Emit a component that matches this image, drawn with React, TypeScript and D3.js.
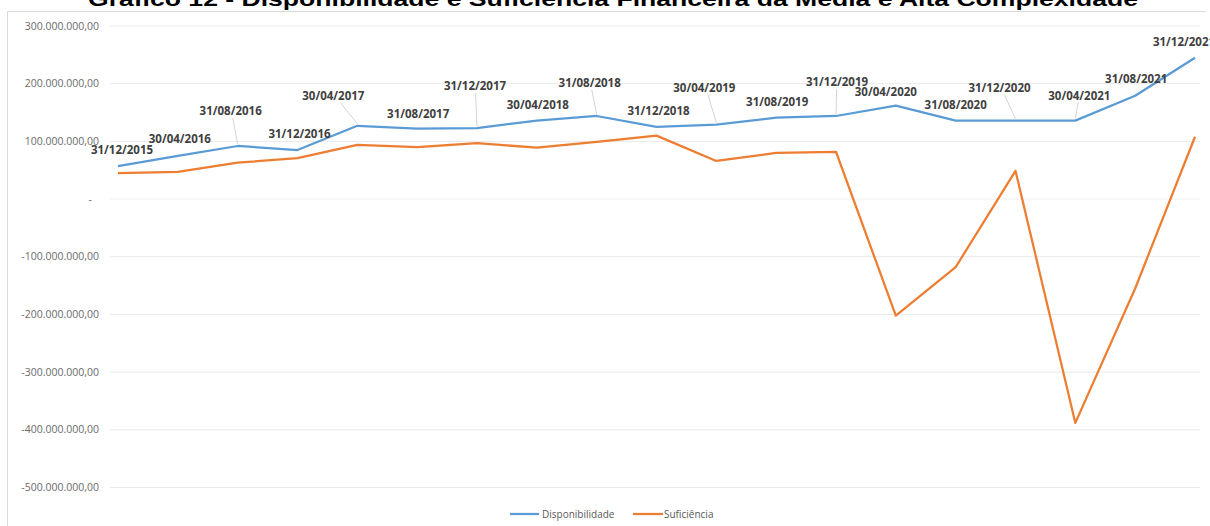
import React from "react";
import * as d3 from "d3";

// Gráfico 12 - Disponibilidade e Suficiência (valores em R$)
const dates = [
  "31/12/2015", "30/04/2016", "31/08/2016", "31/12/2016", "30/04/2017",
  "31/08/2017", "31/12/2017", "30/04/2018", "31/08/2018", "31/12/2018",
  "30/04/2019", "31/08/2019", "31/12/2019", "30/04/2020", "31/08/2020",
  "31/12/2020", "30/04/2021", "31/08/2021", "31/12/2021",
];

// milhões
const disponibilidade = [
  57, 75, 92, 85, 127, 122, 123, 136, 144, 125, 129, 141, 144, 162, 136, 136, 136, 179, 245,
];
const suficiencia = [
  45, 47, 63, 71, 94, 90, 97, 89, 99, 110, 66, 80, 82, -202, -118, 49, -388, -155, 108,
];

const yTicks = [300, 200, 100, 0, -100, -200, -300, -400, -500];

// where each date label sits relative to its blue point (dx, dy of label centre)
const labelOffsets: [number, number][] = [
  [4, -16], [2, -17], [-7, -35], [2, -16], [-24, -30], [1, -15], [-2, -42],
  [1, -16], [-7, -33], [2, -16], [-12, -37], [1, -16], [1, -34], [-10, -14],
  [0, -16], [-16, -33], [4, -25], [1, -17], [-11, -16],
];

const W = 1210;
const H = 526;
const BLUE = "#5b9bd5";
const ORANGE = "#ed7d31";
const TITLE =
  "Gráfico 12 - Disponibilidade e Suficiência Financeira da Média e Alta Complexidade";

const fmt = (v: number) => {
  if (v === 0) return "-";
  const s = d3.format(",.2f")(Math.abs(v) * 1e6);
  // pt-BR style: dots for thousands, comma for decimals
  const br = s.replace(/,/g, "#").replace(".", ",").replace(/#/g, ".");
  return (v < 0 ? "-" : "") + br;
};

export default function App() {
  const x = d3.scalePoint<string>().domain(dates).range([118, 1195]);
  const y = d3.scaleLinear().domain([-500, 300]).range([487.5, 26]);

  const line = d3
    .line<number>()
    .x((_, i) => x(dates[i]) as number)
    .y((d) => y(d));

  const labelFont = "'Open Sans', 'Liberation Sans', sans-serif";

  return (
    <svg
      width={W}
      height={H}
      style={{ position: "absolute", left: 0, top: 0, background: "#fff" }}
    >
      {/* title, cut off at the top */}
      <text
        x={613}
        y={6}
        textAnchor="middle"
        fontFamily="'Liberation Sans', Arial, sans-serif"
        fontWeight="bold"
        fontSize={21}
        fill="#000"
        textLength={1050}
        lengthAdjust="spacingAndGlyphs"
      >
        {TITLE}
      </text>

      {/* chart frame */}
      <path d={`M7.5,${H} V11.5 H1206`} fill="none" stroke="#d9d9d9" strokeWidth={1} />

      {/* gridlines + y labels */}
      {yTicks.map((t) => (
        <g key={t}>
          {t !== 0 && (
            <line x1={110} x2={1200} y1={y(t)} y2={y(t)} stroke="#e9e9e9" strokeWidth={1} />
          )}
          {t === 0 && (
            <line x1={110} x2={1200} y1={y(t)} y2={y(t)} stroke="#f0f0f0" strokeWidth={1} />
          )}
          <text
            x={t === 0 ? 92 : 99}
            y={y(t)}
            dy="0.35em"
            textAnchor="end"
            fontFamily={labelFont}
            fontSize={10.5}
            fill="#6b6b6b"
          >
            {fmt(t)}
          </text>
        </g>
      ))}

      {/* leader lines for labels that sit far from their point */}
      {dates.map((d, i) => {
        const [dx, dy] = labelOffsets[i];
        if (dy > -20) return null;
        const px = x(d) as number;
        const py = y(disponibilidade[i]);
        return (
          <line
            key={"ll" + d}
            x1={px + dx * 0.7}
            y1={py + dy + 7}
            x2={px}
            y2={py - 2}
            stroke="#c8c8c8"
            strokeWidth={0.8}
          />
        );
      })}

      <path d={line(suficiencia) ?? ""} fill="none" stroke={ORANGE} strokeWidth={2.25} strokeLinejoin="round" />
      <path d={line(disponibilidade) ?? ""} fill="none" stroke={BLUE} strokeWidth={2.25} strokeLinejoin="round" />

      {/* date labels */}
      {dates.map((d, i) => {
        const [dx, dy] = labelOffsets[i];
        return (
          <text
            key={"lb" + d}
            x={(x(d) as number) + dx}
            y={y(disponibilidade[i]) + dy}
            dy="0.35em"
            textAnchor="middle"
            fontFamily={labelFont}
            fontWeight={700}
            fontSize={11.5}
            fill="#404040"
          >
            {d}
          </text>
        );
      })}

      {/* legend */}
      <g fontFamily={labelFont} fontSize={10} fill="#595959">
        <line x1={510} x2={539} y1={514} y2={514} stroke={BLUE} strokeWidth={2.25} />
        <text x={542} y={514} dy="0.35em">Disponibilidade</text>
        <line x1={633} x2={663} y1={514} y2={514} stroke={ORANGE} strokeWidth={2.25} />
        <text x={664} y={514} dy="0.35em">Suficiência</text>
      </g>
    </svg>
  );
}
